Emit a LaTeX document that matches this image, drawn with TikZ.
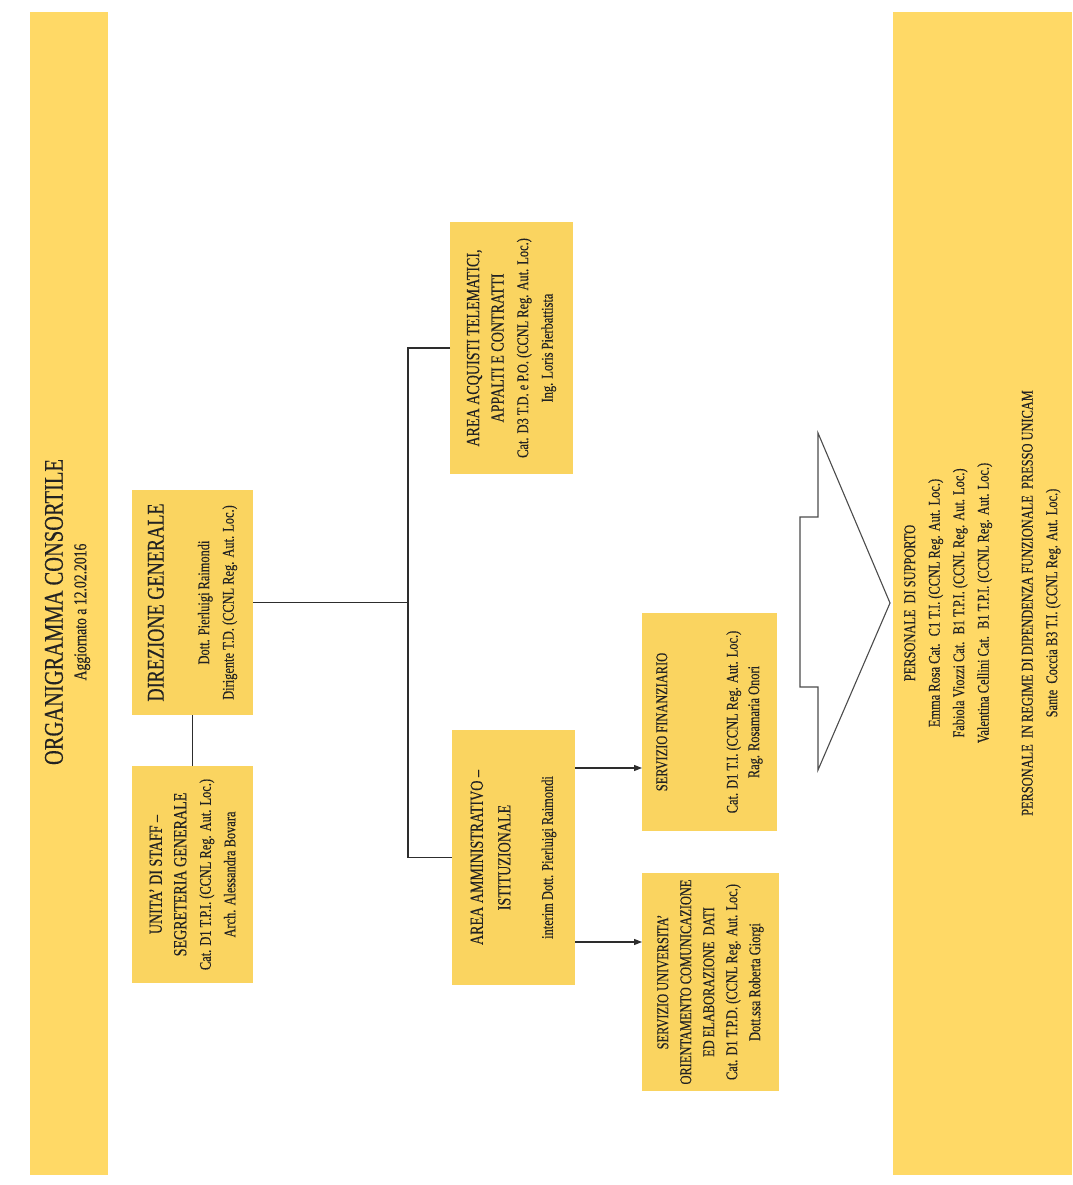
\documentclass[tikz,border=0pt]{standalone}
\usepackage{fontspec}
\setmainfont{Liberation Serif}[FakeStretch=0.76,FakeBold=0.35]
\usetikzlibrary{arrows.meta,calc}
\definecolor{panel}{RGB}{255,217,102}
\definecolor{boxc}{RGB}{250,212,96}
\definecolor{ink}{RGB}{34,34,34}
\definecolor{wire}{RGB}{45,45,45}
\newcommand{\myBody}{\fontsize{16.3}{24.5}\selectfont}
\newcommand{\myHead}{\fontsize{18.5}{24.5}\selectfont}
\begin{document}
\begin{tikzpicture}[x=1pt,y=-1pt,
  panelbox/.style={fill=panel, draw=none, inner sep=0pt, outer sep=0pt},
  orgbox/.style={fill=boxc, draw=none, rotate=90, align=center, text=ink, inner sep=0pt, outer sep=0pt, font=\myBody},
  rtext/.style={rotate=90, align=center, text=ink, inner sep=0pt, font=\myBody},
  wirel/.style={draw=wire, line width=1.1pt},
  arr/.style={wirel, -{Triangle[length=8pt,width=6pt]}},
  bigarrow/.style={draw=black!70, line width=1.1pt, line join=miter}
]
\useasboundingbox (0,0) rectangle (1072,1185);
\fill[white] (0,0) rectangle (1072,1185);

% side panels
\node[panelbox, minimum width=78pt, minimum height=1163pt] (lp) at (69,593.5) {};
\node[panelbox, minimum width=179pt, minimum height=1163pt] (rp) at (982.5,593.5) {};

\node[rtext] (lt) at (67.5,612) {{\fontsize{27}{23}\selectfont ORGANIGRAMMA CONSORTILE}\\[-1pt]{\fontsize{18}{23}\selectfont Aggiornato a 12.02.2016}};

% boxes
\node[orgbox, minimum width=225pt, minimum height=121pt] (dg) at (192.5,602.5)
  {{\fontsize{24}{24.5}\selectfont DIREZIONE GENERALE}\\[21pt]Dott. Pierluigi Raimondi\\Dirigente T.D. (CCNL Reg. Aut. Loc.)};

\node[orgbox, minimum width=217pt, minimum height=121pt] (staff) at (192.5,874.5)
  {{\myHead UNITA' DI STAFF --}\\{\myHead SEGRETERIA GENERALE}\\Cat. D1 T.P.I. (CCNL Reg. Aut. Loc.)\\Arch. Alessandra Bovara};

\node[orgbox, minimum width=252pt, minimum height=123pt] (acq) at (511.5,348)
  {{\myHead AREA ACQUISTI TELEMATICI,}\\{\myHead APPALTI E CONTRATTI}\\Cat. D3 T.D. e P.O. (CCNL Reg. Aut. Loc.)\\Ing. Loris Pierbattista};

\node[orgbox, minimum width=255pt, minimum height=123pt] (amm) at (513.5,857.5)
  {{\myHead AREA AMMINISTRATIVO --}\\[3pt]{\myHead ISTITUZIONALE}\\[18pt]interim Dott. Pierluigi Raimondi};

\node[orgbox, minimum width=218pt, minimum height=135pt] (fin) at (709.5,722)
  {SERVIZIO FINANZIARIO\\[46pt]Cat. D1 T.I. (CCNL Reg. Aut. Loc.)\\[-3pt]Rag. Rosamaria Onori};

\node[orgbox, minimum width=218pt, minimum height=137pt, font=\fontsize{16.3}{23}\selectfont] (uni) at (710.5,982)
  {SERVIZIO UNIVERSITA'\\ORIENTAMENTO COMUNICAZIONE\\ED ELABORAZIONE~ DATI\\Cat. D1 T.P.D. (CCNL Reg. Aut. Loc.)\\Dott.ssa Roberta Giorgi};

% right panel text
\node[rtext] (rt) at (982.5,603)
  {PERSONALE~ DI SUPPORTO\\Emma Rosa Cat.~ C1 T.I. (CCNL Reg. Aut. Loc.)\\Fabiola Viozzi Cat.~ B1 T.P.I. (CCNL Reg. Aut. Loc.)\\Valentina Cellini Cat.~ B1 T.P.I. (CCNL Reg. Aut. Loc.)\\[19.5pt]PERSONALE~ IN REGIME DI DIPENDENZA FUNZIONALE~ PRESSO UNICAM\\Sante~ Coccia B3 T.I. (CCNL Reg. Aut. Loc.)};

% connectors
\coordinate (j) at ($(dg.south)+(155,0)$);
\draw[wirel] (dg.south) -- (j);
\draw[wirel] (acq.north) -| (j) |- (amm.north);
\draw[wirel] (dg.west) -- (staff.east);
\coordinate (a1) at ([yshift=89.5pt]amm.south);
\coordinate (a2) at ([yshift=-84.5pt]amm.south);
\draw[arr] (a1) -- (a1 -| fin.north);
\draw[arr] (a2) -- (a2 -| uni.north);

% big outline arrow
\draw[bigarrow] (800,517) -- (818,517) -- (818,433) -- (890,603) -- (818,770) -- (818,687) -- (800,687) -- cycle;
\end{tikzpicture}
\end{document}
